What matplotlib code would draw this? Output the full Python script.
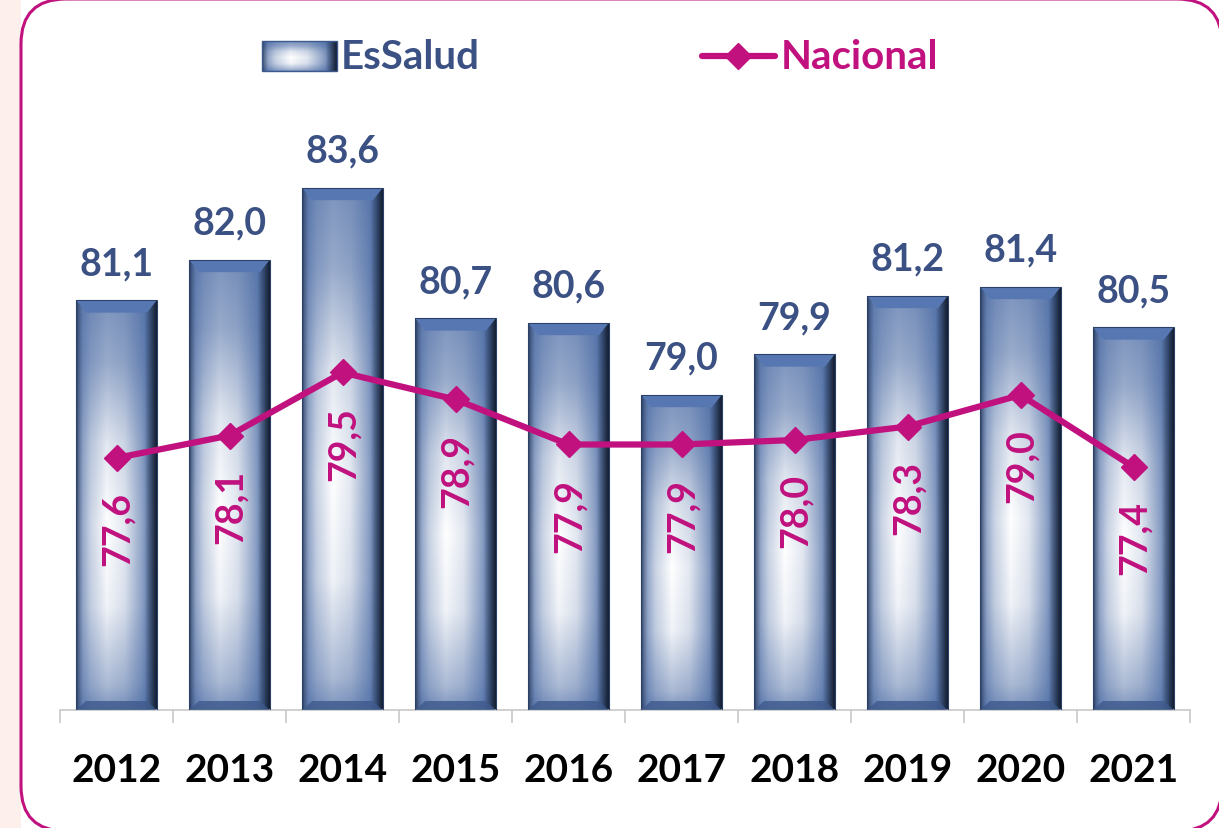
import numpy as np
import matplotlib
matplotlib.use("Agg")
import matplotlib.pyplot as plt
from matplotlib.patches import FancyBboxPatch, Rectangle, Polygon
from matplotlib.lines import Line2D

# data
years = ["2012", "2013", "2014", "2015", "2016", "2017", "2018", "2019", "2020", "2021"]
essalud = [81.1, 82.0, 83.6, 80.7, 80.6, 79.0, 79.9, 81.2, 81.4, 80.5]
nacional = [77.6, 78.1, 79.5, 78.9, 77.9, 77.9, 78.0, 78.3, 79.0, 77.4]

BLUE_TXT = "#3b5083"
MAGENTA = "#c0117e"
FONT = ["Lato", "DejaVu Sans"]
plt.rcParams["font.family"] = FONT

YMIN, YMAX = 72.0, 86.0
BAR_W = 0.71


def bar_image(nh=240, nw=120):
    """Glossy blue gradient like the Excel bar fill."""
    u = np.linspace(0, 1, nw)
    v = np.linspace(0, 1, nh)
    hw = np.interp(u, [0, 0.05, 0.18, 0.38, 0.6, 0.8, 0.9, 1.0],
                   [0.15, 0.35, 0.72, 1.0, 0.85, 0.45, 0.2, 0.0])
    vw = np.interp(v, [0, 0.06, 0.25, 0.45, 0.65, 0.85, 1.0],
                   [0.3, 0.55, 0.92, 1.0, 0.85, 0.45, 0.3])
    w = np.outer(vw, hw)[..., None]
    base = np.array([0.27, 0.40, 0.63])
    col = base * (1 - w) + np.ones(3) * w
    d = np.interp(u, [0, 0.03, 0.08, 0.85, 0.93, 1.0], [0.45, 0.2, 0.0, 0.0, 0.35, 0.7])
    col = col * (1 - d[None, :, None])
    return np.clip(col, 0, 1)


fig = plt.figure(figsize=(12.19, 8.29), dpi=100)

# background in pixel coords
bg = fig.add_axes([0, 0, 1, 1], zorder=0)
bg.set_xlim(0, 1219)
bg.set_ylim(0, 829)
bg.axis("off")
bg.add_patch(Rectangle((0, 0), 21, 829, color="#fcefec", lw=0))
bg.add_patch(FancyBboxPatch((21, -3), 1201, 832, boxstyle="round,pad=0,rounding_size=45",
                            facecolor="white", edgecolor=MAGENTA, lw=2.2))

img = bar_image()

# legend
bg.imshow(img, extent=(262, 337, 829 - 72, 829 - 42), aspect="auto", origin="lower", zorder=2)
bg.add_patch(Rectangle((262, 829 - 72), 75, 30, fill=False, edgecolor="#3d5a8e", lw=1, zorder=3))
bg.text(341, 829 - 57, "EsSalud", color=BLUE_TXT, fontsize=29, fontweight="bold",
        va="center", ha="left")
bg.add_line(Line2D([702, 775], [829 - 57, 829 - 57], color=MAGENTA, lw=4.5,
                   solid_capstyle="round"))
bg.plot([738], [829 - 57], marker="D", color=MAGENTA, ms=13)
bg.text(781, 829 - 57, "Nacional", color=MAGENTA, fontsize=29, fontweight="bold",
        va="center", ha="left")
bg.set_xlim(0, 1219)
bg.set_ylim(0, 829)

ax = fig.add_axes([60 / 1219, 118 / 829, 1130 / 1219, 630 / 829], zorder=1)
ax.patch.set_alpha(0)

x = np.arange(len(years))
dx, dy = 0.085, 0.27
for i, val in enumerate(essalud):
    x0, x1 = i - BAR_W / 2, i + BAR_W / 2
    ax.imshow(img, extent=(x0, x1, YMIN, val), aspect="auto", origin="lower", zorder=2)
    ax.add_patch(Polygon([(x0, val), (x1, val), (x1 - dx, val - dy), (x0 + dx, val - dy)],
                         closed=True, facecolor="#5677b2", edgecolor="none", zorder=3))
    ax.add_patch(Polygon([(x0, YMIN), (x1, YMIN), (x1 - dx, YMIN + 0.2), (x0 + dx, YMIN + 0.2)],
                         closed=True, facecolor="#3e5a8c", edgecolor="none", alpha=0.8, zorder=3))
    ax.add_patch(Rectangle((x0, YMIN), BAR_W, val - YMIN, fill=False,
                           edgecolor="#2c416a", lw=0.8, zorder=3))
    ax.annotate(f"{val:.1f}".replace(".", ","), xy=(i, val), xytext=(0, 19),
                textcoords="offset points", ha="center", va="baseline",
                color=BLUE_TXT, fontsize=27, fontweight="bold")

ax.plot(x, nacional, color=MAGENTA, lw=4.5, marker="D", ms=13, zorder=4)
for i, val in enumerate(nacional):
    ax.annotate(f"{val:.1f}".replace(".", ","), xy=(i, val), xytext=(1, -24),
                textcoords="offset points", ha="center", va="top", rotation=90,
                color=MAGENTA, fontsize=27, fontweight="bold", zorder=5)

ax.set_xlim(-0.5, len(years) - 0.5)
ax.set_ylim(YMIN, YMAX)
ax.set_xticks(x)
ax.set_xticklabels(years, fontsize=28, fontweight="bold", color="black")
ax.set_xticks(np.arange(-0.5, len(years)), minor=True)
ax.tick_params(axis="x", which="major", length=0, pad=30)
ax.tick_params(axis="x", which="minor", length=9, color="#c8c8c8", width=1.2)
ax.set_yticks([])
for s in ["top", "right", "left"]:
    ax.spines[s].set_visible(False)
ax.spines["bottom"].set_color("#c8c8c8")
ax.spines["bottom"].set_linewidth(1.2)

fig.savefig("out.png", dpi=100)
